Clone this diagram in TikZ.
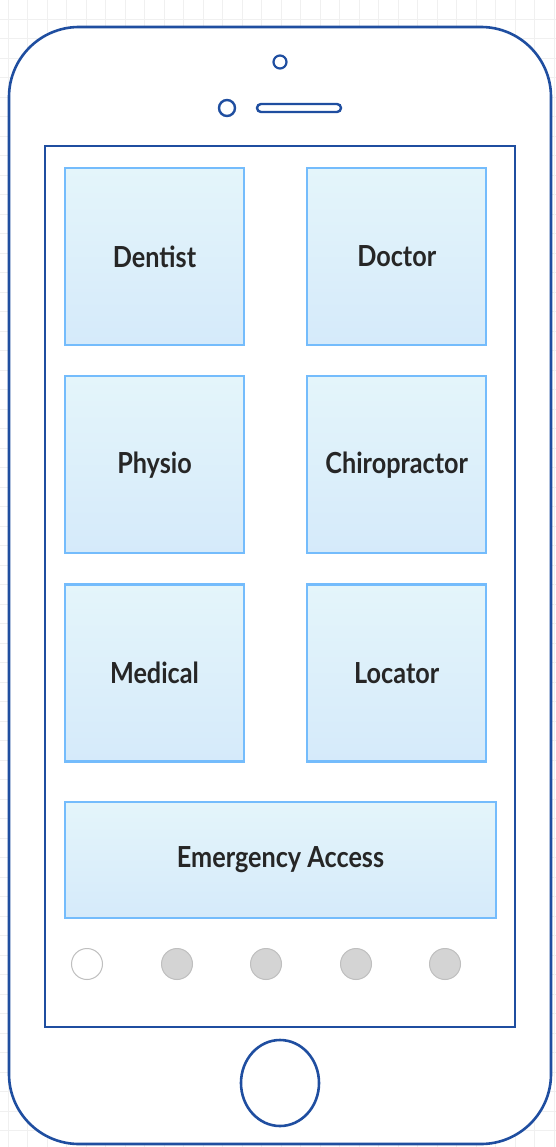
\documentclass[tikz,border=0pt]{standalone}
\usepackage{fontspec}
\setmainfont{Lato}
\newfontfamily\tilefont{Lato}[FakeStretch=0.87]
\definecolor{phoneblue}{HTML}{1F4EA0}
\definecolor{tileedge}{HTML}{74BCFC}
\definecolor{tiletop}{HTML}{E4F5FA}
\definecolor{tilebot}{HTML}{D5EAFA}
\definecolor{dotgray}{HTML}{D4D4D4}
\usetikzlibrary{positioning,shapes.geometric}

\begin{document}
\begin{tikzpicture}[
    x=1pt, y=-1pt,
    node distance=29pt and 61pt,
    gridline/.style={draw=black!6, line width=0.6pt},
    frame/.style={draw=phoneblue, line width=2.6pt},
    tile/.style={rectangle, draw=tileedge, line width=2.2pt,
                 top color=tiletop, bottom color=tilebot,
                 minimum width=179pt, minimum height=177pt,
                 font=\tilefont\bfseries\fontsize{29}{32}\selectfont, text=black!85},
    dot/.style={circle, minimum size=31pt, inner sep=0pt,
                draw=dotgray!90!black, line width=1pt, fill=dotgray}
  ]
    \useasboundingbox (0,0) rectangle (556,1147);
    \fill[white] (0,0) rectangle (556,1147);
    % background grid
    \foreach \i in {0,...,28}
      \draw[gridline] ({8+19.5*\i},0) -- ++(0,1147);
    \foreach \j in {0,...,58}
      \draw[gridline] (0,{19+19.5*\j}) -- ++(556,0);

    % phone body and screen
    \draw[frame, fill=white, rounded corners=70pt] (9,27) rectangle (551,1144);
    \draw[frame] (45,146) rectangle (515,1027);
    \draw[frame, line width=2.2pt] (280,62) circle (6.5);
    \draw[frame, line width=2.4pt] (227,108) circle (8);
    \draw[frame, line width=2.4pt, rounded corners=4pt] (257,104) rectangle (341,112);
    \node[ellipse, frame, minimum width=78pt, minimum height=86pt] (home) at (280,1083) {};

    % tiles
    \node[tile] (dentist) at (154.5,256.5) {Dentist};
    \node[tile, right=of dentist] (doctor) {Doctor};
    \node[tile, below=of dentist] (physio) {Physio};
    \node[tile, right=of physio] (chiro) {Chiropractor};
    \node[tile, below=of physio] (medical) {Medical};
    \node[tile, right=of medical] (locator) {Locator};
    \node[tile, minimum width=431pt, minimum height=116pt] (emergency) at (280.5,860) {Emergency Access};

    % page dots
    \node[dot, fill=white] (d1) at (87,964) {};
    \foreach \x/\n in {177/2,266/3,356/4,445/5}
      \node[dot] (d\n) at (\x,964) {};
  \end{tikzpicture}
\end{document}
